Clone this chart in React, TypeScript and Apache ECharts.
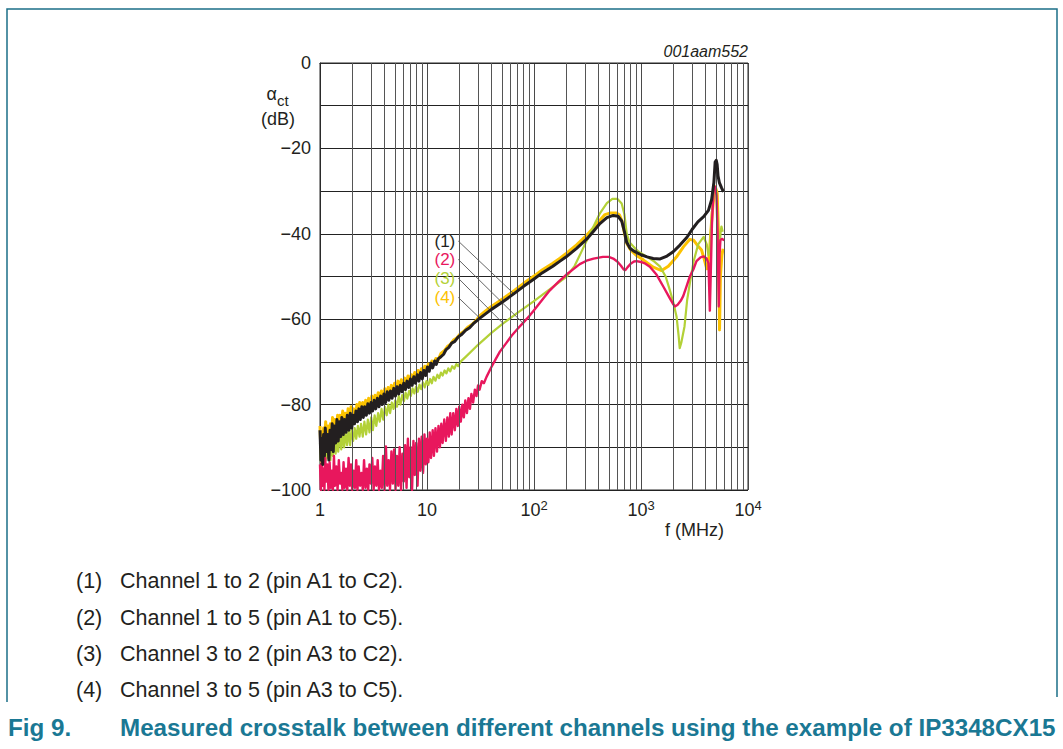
import React, { useEffect, useRef } from 'react';
import * as echarts from 'echarts';

const FONT = '"Liberation Sans", Arial, Helvetica, sans-serif';
const INK = '#231f20';
const TEAL_TEXT = '#1a7894';
const TEAL_LINE = '#1b6f88';

const COLOR_1 = '#231f20';
const COLOR_2 = '#e8175d';
const COLOR_3 = '#b3d137';
const COLOR_4 = '#fcc200';

// Y axis tick labels every 20 dB, grid every 10 dB
const Y_MIN = -100;
const Y_MAX = 0;
const Y_GRID_STEP = 10;
const Y_LABEL_STEP = 20;

// X axis (log) range, MHz
const X_MIN = 1;
const X_MAX = 10000;

// minor vertical grid frequencies (MHz)
const MINOR_GRID_F = [
  2, 3, 4, 5, 6, 7, 8, 9,
  20, 30, 40, 50, 60, 70, 80, 90,
  200, 300, 400, 500, 600, 700, 800, 900,
  2000, 3000, 4000, 5000, 6000, 7000, 8000, 9000,
];

// (1) Channel 1 to 2
const CH1_TO_2: [number, number][] = [
  [1.0, -86], [1.02, -93], [1.04, -88], [1.06, -94], [1.08, -87], [1.1, -92], [1.12, -85.5], [1.15, -91],
  [1.18, -87], [1.21, -93], [1.24, -86], [1.27, -90.5], [1.3, -84.5], [1.33, -91], [1.36, -85], [1.4, -89],
  [1.44, -83.5], [1.48, -88.5], [1.52, -84], [1.56, -87.5], [1.6, -83], [1.65, -87], [1.7, -83.5], [1.75, -86.5],
  [1.8, -82.5], [1.86, -86], [1.92, -82], [1.98, -85.5], [2.04, -82.5], [2.1, -84.5], [2.17, -81.5], [2.24, -84],
  [2.31, -81], [2.38, -83.5], [2.46, -80.5], [2.54, -83], [2.62, -80.5], [2.71, -82.5], [2.8, -79.8], [2.9, -82],
  [3.0, -79.5], [3.1, -81.5], [3.21, -79], [3.32, -81], [3.44, -78.5], [3.56, -80.5], [3.69, -78], [3.82, -80],
  [3.96, -77.5], [4.1, -79.5], [4.25, -77], [4.4, -79], [4.56, -76.8], [4.72, -78.5], [4.89, -76.2], [5.07, -78],
  [5.25, -75.8], [5.44, -77.5], [5.64, -75.5], [5.85, -77], [6.06, -75], [6.28, -76.5], [6.51, -74.5], [6.75, -76],
  [7.0, -74], [7.26, -75.5], [7.53, -73.5], [7.81, -75], [8.1, -73], [8.4, -74.5], [8.71, -72.5], [9.03, -74],
  [9.37, -72], [9.72, -73.2], [10.1, -71.2], [10.5, -72.2], [10.9, -70.3], [11.3, -71.4], [11.8, -69.8], [12.2, -70.6],
  [12.7, -69.3], [13.5, -68.8], [14.3, -68.2], [15, -67.2], [16, -66.6], [17, -65.6], [18.2, -65.2], [19.5, -64.2],
  [21, -63.6], [23, -62.6], [25, -62], [27.5, -60.9], [31, -59.8], [35, -58.8], [40, -57.7], [48, -56.4],
  [56, -55.2], [66, -53.9], [80, -52.3], [100, -50.6], [120, -49.1], [150, -47.6], [175, -46.4], [200, -45.4],
  [250, -43.4], [312, -41.2], [360, -39.4], [413, -37.6], [480, -36.2], [550, -35.7], [610, -35.9], [660, -37],
  [700, -39.5], [735, -42], [790, -43.4], [850, -44], [1000, -44.9], [1140, -45.4], [1300, -45.8], [1510, -45.9],
  [1750, -45.2], [2000, -44.2], [2300, -42.7], [2690, -40.8], [3000, -39], [3400, -37.2], [3850, -36], [4270, -34.5],
  [4570, -32], [4800, -28], [4930, -23.2], [5050, -22.8], [5150, -23.8], [5250, -26.5], [5400, -28], [5650, -29.2],
  [5900, -30.2],
];

// (2) Channel 1 to 5
const CH1_TO_5: [number, number][] = [
  [1.0, -94], [1.02, -100], [1.04, -93], [1.06, -99], [1.08, -95], [1.1, -100], [1.12, -92.5], [1.14, -98],
  [1.17, -94], [1.2, -100], [1.23, -93.5], [1.26, -99.5], [1.29, -95.5], [1.32, -100], [1.35, -92], [1.38, -99],
  [1.42, -94.5], [1.46, -100], [1.5, -93], [1.54, -98.5], [1.58, -96], [1.62, -100], [1.66, -93.5], [1.7, -99.5],
  [1.75, -95], [1.8, -100], [1.85, -92.5], [1.9, -99], [1.95, -94], [2.0, -100], [2.06, -95.5], [2.12, -99.5],
  [2.18, -93], [2.24, -100], [2.3, -94.5], [2.37, -99], [2.44, -96], [2.51, -100], [2.58, -93], [2.66, -99.5],
  [2.74, -95], [2.82, -100], [2.9, -94], [2.99, -98.5], [3.08, -92.5], [3.17, -100], [3.26, -94.5], [3.36, -99],
  [3.46, -93], [3.56, -100], [3.67, -95.5], [3.78, -99.5], [3.89, -92], [4.01, -100], [4.13, -89.8], [4.25, -99],
  [4.38, -93], [4.51, -100], [4.65, -91], [4.79, -98.5], [4.93, -90.5], [5.08, -100], [5.23, -92], [5.39, -99],
  [5.55, -90], [5.72, -100], [5.89, -91.5], [6.07, -98], [6.25, -89.5], [6.44, -99.5], [6.63, -88], [6.83, -97],
  [7.04, -90], [7.25, -100], [7.47, -88.5], [7.69, -96.5], [7.92, -89], [8.16, -99], [8.41, -88], [8.66, -95.5],
  [8.92, -87.5], [9.19, -96], [9.47, -87], [9.75, -94], [10.0, -88], [10.3, -93.5], [10.6, -86.5], [10.9, -92.5],
  [11.3, -86], [11.6, -92], [12.0, -85.5], [12.4, -91], [12.8, -85], [13.2, -90], [13.6, -84.5], [14.0, -89],
  [14.5, -83.5], [15.0, -88.5], [15.5, -83], [16.0, -87.5], [16.5, -82], [17.0, -87], [17.6, -82], [18.2, -86],
  [18.8, -81], [19.4, -85], [20.0, -80.5], [20.7, -84], [21.4, -80], [22.1, -83], [22.8, -79], [23.6, -82],
  [24.4, -78.5], [25.2, -81], [26, -77.5], [27, -79.5], [28, -76.5], [29, -78], [30, -75.5], [31, -76.5],
  [32.5, -74.5], [34, -75], [36, -73.5], [40, -71.2], [44, -69.3], [48, -67.6], [55, -65.6], [62, -63.8],
  [70, -62.3], [79.5, -60.8], [90, -59.3], [100, -57.9], [120, -55.4], [140, -53.3], [170, -51.2], [200, -49.6],
  [235, -48.2], [268, -47.1], [310, -46.3], [360, -45.8], [440, -45.4], [500, -45.4], [550, -45.8], [600, -46.5],
  [650, -47.5], [690, -48.4], [715, -48.5], [750, -47.8], [800, -47], [860, -46.5], [910, -46.4], [1000, -46.6],
  [1100, -47], [1210, -47.7], [1400, -49.6], [1620, -52.4], [1850, -55], [2000, -56.5], [2090, -57], [2200, -56.6],
  [2350, -55.7], [2480, -54.6], [2650, -52.5], [2860, -50], [3090, -48.3], [3300, -46.4], [3600, -45.5], [3850, -45.3],
  [4100, -45.8], [4270, -46.9], [4330, -52], [4400, -58], [4480, -50], [4600, -38], [4750, -30], [4930, -29],
  [5080, -31], [5200, -40], [5330, -57], [5420, -45], [5520, -41.5], [5700, -41.2], [6000, -41.5],
];

// (3) Channel 3 to 2
const CH3_TO_2: [number, number][] = [
  [1.0, -89], [1.02, -93.5], [1.04, -90], [1.07, -94], [1.1, -89.5], [1.13, -93], [1.16, -90], [1.19, -92.5],
  [1.22, -89], [1.25, -93], [1.28, -88.5], [1.32, -92], [1.36, -88], [1.4, -91.5], [1.44, -87.5], [1.48, -91],
  [1.53, -87], [1.58, -90.5], [1.63, -87], [1.68, -90], [1.73, -86.5], [1.79, -89.5], [1.85, -86], [1.91, -89.5],
  [1.97, -86], [2.04, -88.5], [2.11, -85.5], [2.18, -88], [2.26, -85], [2.34, -87.5], [2.42, -84.5], [2.51, -87.5],
  [2.6, -84], [2.7, -87], [2.8, -83.5], [2.9, -86.5], [3.01, -83], [3.12, -86], [3.24, -82.5], [3.36, -85],
  [3.49, -82], [3.62, -84], [3.76, -81], [3.9, -83.5], [4.05, -80.5], [4.2, -82.5], [4.36, -80], [4.52, -82],
  [4.69, -79.5], [4.87, -81], [5.05, -79], [5.24, -80.5], [5.44, -78], [5.65, -80], [5.86, -77.8], [6.08, -79.2],
  [6.31, -77.2], [6.55, -78.6], [6.8, -76.8], [7.06, -78], [7.33, -76.2], [7.61, -77.4], [7.9, -75.8], [8.2, -77],
  [8.51, -75.3], [8.83, -76.4], [9.17, -74.8], [9.52, -76], [9.88, -74.5], [10.3, -75.4], [10.7, -74], [11.1, -75],
  [11.5, -73.5], [12.0, -74.4], [12.5, -73], [13, -73.8], [13.5, -72.5], [14, -73.2], [14.6, -72], [15.2, -72.7],
  [15.8, -71.5], [16.5, -72.2], [17.2, -71], [18, -71.6], [18.8, -70.5], [19.6, -71], [20.5, -70], [23.5, -68.6],
  [30, -66], [40, -63.2], [51.5, -61], [70, -58.5], [98.5, -55.9], [140, -53], [202, -50], [240, -47.5],
  [280, -44], [312, -41.5], [360, -38.3], [413, -35.2], [480, -32.8], [540, -31.8], [600, -31.8], [660, -32.9],
  [700, -35.5], [735, -39.9], [780, -42], [850, -43], [950, -44.2], [1140, -45.4], [1300, -46.3], [1510, -47.7],
  [1700, -50], [1860, -53.2], [2000, -56], [2150, -59.4], [2250, -64], [2300, -66.8], [2380, -65.5], [2550, -61.7],
  [2700, -55.5], [2860, -51.6], [3100, -46.5], [3420, -42.5], [3850, -40.7], [4120, -42.5], [4270, -45], [4400, -44],
  [4600, -35], [4800, -30.5], [4950, -29.5], [5100, -31], [5250, -40], [5400, -44], [5550, -39.5], [5650, -38.3],
  [5800, -39.5],
];

// (4) Channel 3 to 5
const CH3_TO_5: [number, number][] = [
  [1.0, -85], [1.02, -91], [1.04, -86.5], [1.06, -92], [1.08, -85.5], [1.1, -90], [1.13, -84], [1.16, -89.5],
  [1.19, -85], [1.22, -90.5], [1.25, -84.5], [1.28, -89], [1.31, -83], [1.34, -88.5], [1.38, -83.5], [1.42, -87.5],
  [1.46, -82.5], [1.5, -87], [1.54, -82.5], [1.58, -86], [1.63, -81.5], [1.68, -85.5], [1.73, -82], [1.78, -85],
  [1.83, -81], [1.89, -84.5], [1.95, -80.5], [2.01, -84], [2.07, -81], [2.14, -83], [2.21, -80], [2.28, -82.5],
  [2.35, -79.5], [2.43, -82], [2.51, -79.5], [2.59, -81.5], [2.67, -79], [2.76, -81], [2.85, -78.5], [2.95, -80.5],
  [3.05, -78], [3.16, -80], [3.27, -77.8], [3.38, -79.5], [3.5, -77.2], [3.62, -79], [3.75, -76.8], [3.89, -78.5],
  [4.03, -76.3], [4.18, -78], [4.33, -76], [4.48, -77.5], [4.64, -75.5], [4.81, -77], [4.98, -75], [5.16, -76.5],
  [5.35, -74.5], [5.54, -76], [5.75, -74.2], [5.96, -75.5], [6.18, -73.8], [6.41, -75], [6.64, -73.3], [6.89, -74.6],
  [7.14, -73], [7.4, -74], [7.67, -72.5], [7.95, -73.6], [8.25, -72], [8.55, -73.2], [8.87, -71.6], [9.2, -72.6],
  [9.55, -71], [9.9, -72], [10.3, -70.5], [10.7, -71.3], [11.1, -69.8], [11.6, -70.6], [12.1, -69.2], [12.6, -69.8],
  [13.5, -68], [14.5, -67.4], [15.5, -66.4], [16.5, -65.9], [17.7, -64.9], [19, -64.4], [20.5, -63.4], [22, -62.9],
  [24, -61.9], [26.5, -61.2], [29, -60.2], [31, -59.2], [35, -58.1], [40, -57], [48, -55.7], [56, -54.5],
  [66, -53.2], [80, -51.6], [100, -49.9], [120, -48.4], [150, -46.9], [175, -45.7], [200, -44.6], [250, -42.6],
  [312, -40.3], [360, -38.6], [413, -36.8], [460, -35.5], [520, -35.1], [590, -35.1], [630, -35.6], [665, -37],
  [700, -39.8], [735, -42.2], [800, -43.8], [900, -45], [1050, -46.1], [1300, -47.8], [1560, -48.6], [1800, -47.6],
  [2000, -46.3], [2150, -45.4], [2500, -43], [2860, -41.3], [3100, -41.5], [3440, -43], [3680, -43.8], [3900, -46],
  [4120, -48.2], [4250, -47], [4400, -43], [4600, -36], [4800, -31], [4950, -29], [5150, -30.5], [5300, -40],
  [5420, -62.5], [5520, -50], [5700, -45], [5850, -43.5],
];

const SERIES_NAMES = ['(1)', '(2)', '(3)', '(4)'];

// leader lines from the "(n)" labels to the curves, in data coordinates [MHz, dB]
const LEADER_FROM: [number, number][] = [[19.6, -41.7], [19.6, -46.0], [19.6, -50.4], [19.6, -54.9]];
const LEADER_TO: [number, number][] = [[66.5, -54.3], [79.5, -61.0], [51.5, -61.0], [31.3, -59.8]];

const NOTE_TEXTS = [
  'Channel 1 to 2 (pin A1 to C2).',
  'Channel 1 to 5 (pin A1 to C5).',
  'Channel 3 to 2 (pin A3 to C2).',
  'Channel 3 to 5 (pin A3 to C5).',
];

const FIG_NUMBER = 'Fig 9.';
const FIG_TITLE = 'Measured crosstalk between different channels using the example of IP3348CX15';
const FIG_CODE = '001aam552';

export default function App() {
  const ref = useRef<HTMLDivElement>(null);

  useEffect(() => {
    if (!ref.current) return;
    const chart = echarts.init(ref.current, undefined, { renderer: 'svg' });
    const colors = [COLOR_1, COLOR_2, COLOR_3, COLOR_4];

    const curve = (name: string, data: [number, number][], color: string, width: number, z: number) => ({
      name,
      type: 'line',
      data,
      showSymbol: false,
      symbol: 'none',
      smooth: false,
      clip: true,
      z,
      lineStyle: { color, width, join: 'round' },
      emphasis: { disabled: true },
      silent: true,
    });

    const noteGraphics: any[] = [];
    const noteY = [581, 618, 654, 690];
    NOTE_TEXTS.forEach((t, i) => {
      noteGraphics.push({
        type: 'text', x: 76, y: noteY[i], silent: true,
        style: { text: SERIES_NAMES[i], font: `21.5px ${FONT}`, fill: INK, verticalAlign: 'middle' },
      });
      noteGraphics.push({
        type: 'text', x: 120, y: noteY[i], silent: true,
        style: { text: t, font: `21.5px ${FONT}`, fill: INK, verticalAlign: 'middle' },
      });
    });

    const leaderLabels = LEADER_FROM.map((p, i) => ({
      name: SERIES_NAMES[i],
      coord: p,
      label: { color: colors[i] },
    }));

    chart.setOption({
      animation: false,
      backgroundColor: '#ffffff',
      textStyle: { fontFamily: FONT, color: INK },
      grid: {
        left: 320, top: 63, width: 428, height: 427,
        show: true, borderColor: '#2a2a2a', borderWidth: 1, backgroundColor: 'transparent',
      },
      xAxis: {
        type: 'log', logBase: 10, min: X_MIN, max: X_MAX,
        axisLine: { show: true, lineStyle: { color: '#2a2a2a', width: 1 } },
        axisTick: { show: false },
        minorTick: { show: false },
        splitLine: { show: true, lineStyle: { color: '#4a4a4a', width: 1 } },
        axisLabel: {
          show: true, margin: 9, showMinLabel: true, showMaxLabel: true,
          formatter: (v: number) => {
            const e = Math.round(Math.log10(v));
            if (e === 0) return '{n|1}';
            if (e === 1) return '{n|10}';
            return `{n|10}{s|${e}}`;
          },
          rich: {
            n: { fontSize: 18, fontFamily: FONT, color: INK, lineHeight: 22 },
            s: { fontSize: 13, fontFamily: FONT, color: INK, lineHeight: 12, verticalAlign: 'top' },
          },
        },
      },
      yAxis: {
        type: 'value', min: Y_MIN, max: Y_MAX, interval: Y_GRID_STEP,
        axisLine: { show: true, lineStyle: { color: '#2a2a2a', width: 1 } },
        axisTick: { show: false },
        splitLine: { show: true, lineStyle: { color: '#222222', width: 1 } },
        axisLabel: {
          margin: 9, fontSize: 18, fontFamily: FONT, color: INK, showMinLabel: true, showMaxLabel: true,
          formatter: (v: number) => {
            const r = Math.round(v);
            if (r % Y_LABEL_STEP !== 0) return '';
            return r === 0 ? '0' : '\u2212' + Math.abs(r);
          },
        },
      },
      series: [
        {
          name: 'minor-grid', type: 'line', data: [[X_MIN, Y_MIN]], symbol: 'none', showSymbol: false,
          lineStyle: { width: 0, opacity: 0 }, z: 1, silent: true,
          markLine: {
            silent: true, symbol: ['none', 'none'], animation: false,
            label: { show: false }, emphasis: { disabled: true },
            lineStyle: { color: '#555555', width: 1, type: 'solid' },
            data: MINOR_GRID_F.map((f) => ({ xAxis: f })),
          },
        },
        {
          name: 'leaders', type: 'line', data: [[X_MIN, Y_MIN]], symbol: 'none', showSymbol: false,
          lineStyle: { width: 0, opacity: 0 }, z: 6, silent: true,
          markLine: {
            silent: true, symbol: ['none', 'none'], animation: false,
            label: { show: false }, emphasis: { disabled: true },
            lineStyle: { color: '#555555', width: 0.9, type: 'solid' },
            data: LEADER_FROM.map((p, i) => [{ coord: p }, { coord: LEADER_TO[i] }]),
          },
          markPoint: {
            silent: true, animation: false, symbol: 'circle', symbolSize: 0,
            itemStyle: { color: 'transparent' },
            emphasis: { disabled: true },
            label: {
              show: true, position: 'left', distance: 3, fontSize: 17, fontFamily: FONT,
              opacity: 1, formatter: '{b}',
            },
            data: leaderLabels,
          },
        },
        curve('(4)', CH3_TO_5, COLOR_4, 3, 2),
        curve('(3)', CH3_TO_2, COLOR_3, 2.2, 3),
        curve('(2)', CH1_TO_5, COLOR_2, 2.4, 4),
        curve('(1)', CH1_TO_2, COLOR_1, 3, 5),
      ],
      graphic: [
        {
          type: 'polyline', silent: true,
          shape: { points: [[7, 702], [7, 9], [1057, 9], [1057, 697]] },
          style: { stroke: TEAL_LINE, lineWidth: 1.5, fill: 'none' },
        },
        {
          type: 'text', x: 748, y: 51, silent: true,
          style: { text: FIG_CODE, font: `italic 16px ${FONT}`, fill: INK, align: 'right', verticalAlign: 'middle' },
        },
        {
          type: 'text', x: 277, y: 94, silent: true,
          style: { text: '\u03b1', font: `18px ${FONT}`, fill: INK, align: 'right', verticalAlign: 'middle' },
        },
        {
          type: 'text', x: 277, y: 100, silent: true,
          style: { text: 'ct', font: `15px ${FONT}`, fill: INK, align: 'left', verticalAlign: 'middle' },
        },
        {
          type: 'text', x: 295, y: 118.5, silent: true,
          style: { text: '(dB)', font: `18px ${FONT}`, fill: INK, align: 'right', verticalAlign: 'middle' },
        },
        {
          type: 'text', x: 724, y: 530, silent: true,
          style: { text: 'f (MHz)', font: `18px ${FONT}`, fill: INK, align: 'right', verticalAlign: 'middle' },
        },
        ...noteGraphics,
        {
          type: 'text', x: 8, y: 727, silent: true,
          style: { text: FIG_NUMBER, font: `bold 24.2px ${FONT}`, fill: TEAL_TEXT, verticalAlign: 'middle' },
        },
        {
          type: 'text', x: 120, y: 727, silent: true,
          style: { text: FIG_TITLE, font: `bold 24.2px ${FONT}`, fill: TEAL_TEXT, verticalAlign: 'middle' },
        },
      ],
    });

    return () => {
      chart.dispose();
    };
  }, []);

  return (
    <div
      ref={ref}
      style={{ position: 'fixed', left: 0, top: 0, width: 1063, height: 749, background: '#ffffff' }}
    />
  );
}
